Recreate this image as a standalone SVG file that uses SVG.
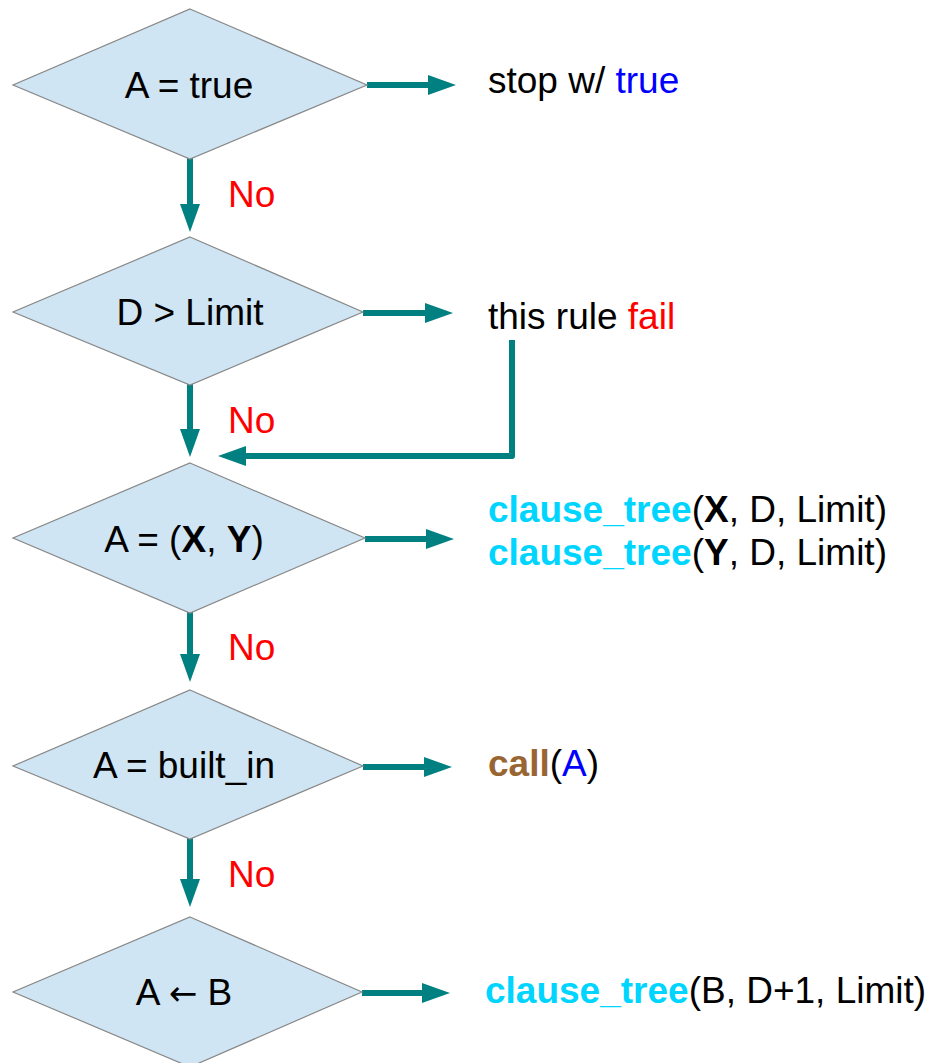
<svg xmlns="http://www.w3.org/2000/svg" width="947" height="1063" viewBox="0 0 947 1063">
<style>
text{font-family:"Liberation Sans",Arial,sans-serif;font-size:37px;fill:#000}
.d{fill:#cfe5f3;stroke:#888;stroke-width:1.2}
.c{fill:none;stroke:#008080;stroke-width:6;stroke-linejoin:round}
.no{fill:#ff0000}
.cy{fill:#00d5ff;font-weight:bold}
.b{font-weight:bold}
.ar{font-family:"DejaVu Sans",sans-serif;font-size:34px}
</style>
<defs>
<marker id="ah" markerUnits="userSpaceOnUse" viewBox="0 0 28 20" markerWidth="28" markerHeight="20" refX="18" refY="10" orient="auto">
<path d="M0,0 L28,10 L0,20 z" fill="#008080"/>
</marker>
</defs>
<g id="connectors">
<path class="c" marker-end="url(#ah)" d="M367,85 H446"/>
<path class="c" marker-end="url(#ah)" d="M363,313 H443"/>
<path class="c" marker-end="url(#ah)" d="M365,539 H444"/>
<path class="c" marker-end="url(#ah)" d="M363,767 H442"/>
<path class="c" marker-end="url(#ah)" d="M362,993 H440"/>
<path class="c" marker-end="url(#ah)" d="M190,156 V222"/>
<path class="c" marker-end="url(#ah)" d="M190,381 V447"/>
<path class="c" marker-end="url(#ah)" d="M190,607 V672"/>
<path class="c" marker-end="url(#ah)" d="M190,832 V897"/>
<path class="c" marker-end="url(#ah)" d="M512,340 V456 H228"/>
<text class="no" x="228" y="207">No</text>
<text class="no" x="228" y="433">No</text>
<text class="no" x="228" y="660">No</text>
<text class="no" x="228" y="887">No</text>
</g>
<g id="n1">
<polygon class="d" points="190,9 367,85 190,159 13,85"/>
<text x="189" y="98" text-anchor="middle">A = true</text>
</g>
<g id="n2">
<polygon class="d" points="190,237 363,312 190,385 13,312"/>
<text x="190" y="325" text-anchor="middle">D &gt; Limit</text>
</g>
<g id="n3">
<polygon class="d" points="190,463 365,538 190,613 13,538"/>
<text x="184" y="552" text-anchor="middle">A = (<tspan class="b">X</tspan>, <tspan class="b">Y</tspan>)</text>
</g>
<g id="n4">
<polygon class="d" points="190,690 363,766 190,839 13,766"/>
<text x="184" y="778" text-anchor="middle">A = built_in</text>
</g>
<g id="n5">
<polygon class="d" points="190,917 362,992 190,1067 13,992"/>
<text x="184" y="1005" text-anchor="middle">A <tspan class="ar">←</tspan> B</text>
</g>
<g id="r1">
<text x="488" y="93">stop w/ <tspan fill="#0000ff">true</tspan></text>
</g>
<g id="r2">
<text x="488" y="329">this rule <tspan fill="#ff0000">fail</tspan></text>
</g>
<g id="r3">
<text x="488" y="522"><tspan class="cy">clause_tree</tspan>(<tspan class="b">X</tspan>, D, Limit)</text>
<text x="488" y="565"><tspan class="cy">clause_tree</tspan>(<tspan class="b">Y</tspan>, D, Limit)</text>
</g>
<g id="r4">
<text x="488" y="776"><tspan class="b" fill="#996633">call</tspan>(<tspan fill="#0000ff">A</tspan>)</text>
</g>
<g id="r5">
<text x="485" y="1003"><tspan class="cy">clause_tree</tspan>(B, D+1, Limit)</text>
</g>
</svg>
